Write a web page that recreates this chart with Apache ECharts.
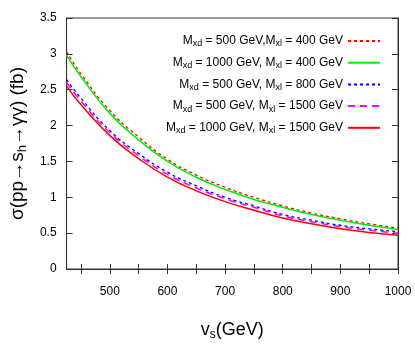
<!DOCTYPE html>
<html><head><meta charset="utf-8">
<script src="https://cdn.jsdelivr.net/npm/echarts@6/dist/echarts.min.js"></script>
<style>html,body{margin:0;padding:0;background:#fff}#c{width:415px;height:360px}</style>
</head><body><div id="c"></div>
<script>
var vs = [425, 450, 500, 550, 600, 650, 700, 750, 800, 850, 900, 950, 1000];
var s1 = [3.03, 2.72, 2.21, 1.84, 1.53, 1.31, 1.14, 1.00, 0.88, 0.78, 0.70, 0.63, 0.57];
var s2 = [2.98, 2.68, 2.17, 1.80, 1.50, 1.28, 1.11, 0.97, 0.86, 0.76, 0.68, 0.61, 0.55];
var s3 = [2.64, 2.38, 1.93, 1.61, 1.35, 1.16, 1.00, 0.88, 0.76, 0.68, 0.61, 0.56, 0.52];
var s4 = [2.60, 2.34, 1.90, 1.58, 1.32, 1.13, 0.98, 0.86, 0.74, 0.66, 0.59, 0.54, 0.50];
var s5 = [2.55, 2.29, 1.86, 1.54, 1.28, 1.09, 0.94, 0.82, 0.71, 0.63, 0.56, 0.51, 0.47];
var names = ['Mxd = 500 GeV,Mxl = 400 GeV', 'Mxd = 1000 GeV, Mxl = 400 GeV', 'Mxd = 500 GeV, Mxl = 800 GeV', 'Mxd = 500 GeV, Mxl = 1500 GeV', 'Mxd = 1000 GeV, Mxl = 1500 GeV'];
var xLabelValues = [500, 600, 700, 800, 900, 1000];
var xTickValues = [450, 500, 550, 600, 650, 700, 750, 800, 850, 900, 950, 1000];

function pairs(ys){ return vs.map(function(v,i){ return [v, ys[i]]; }); }
var font = '"Liberation Sans", Arial, sans-serif';
var chart = echarts.init(document.getElementById('c'), null, {renderer:'canvas'});
function mk(name, ys, color, type, width){
  return {name:name, type:'line', data:pairs(ys), showSymbol:false, symbol:'none', smooth:true,
    lineStyle:{color:color, type:type, width:width}, itemStyle:{color:color}, z: 3};
}
var axisLine = {show:true, lineStyle:{color:'#333', width:1}};
chart.setOption({
  animation:false,
  grid:{left:55, right:17, top:18, bottom:91, show:true, borderColor:'#333', borderWidth:1},
  legend:{orient:'vertical', right:29, top:30, align:'right', itemWidth:32, itemHeight:12, itemGap:8.2,
    itemStyle:{opacity:0},
    textStyle:{fontFamily:font, fontSize:12, color:'#000',
      rich:{sub:{fontSize:9, verticalAlign:'bottom', padding:[6,0,0,0], fontFamily:font, color:'#000'}}},
    formatter:function(n){ return n.replace(/M(xd|xl)/g, 'M{sub|$1}'); },
    data:names},
  xAxis:[{type:'value', min:425, max:1000, position:'bottom',
    axisLine:axisLine, splitLine:{show:false},
    axisTick:{show:true, inside:true, length:5, customValues:xTickValues, lineStyle:{color:'#333'}},
    axisLabel:{customValues:xLabelValues, fontFamily:font, fontSize:12, color:'#000', margin:17,
      formatter:function(v){ return String(v); }},
    name:'v{sub|s}(GeV)', nameLocation:'middle', nameGap:50,
    nameTextStyle:{fontFamily:font, fontSize:18, color:'#000',
      rich:{sub:{fontSize:12, fontFamily:font, color:'#000', verticalAlign:'bottom', padding:[10,0,0,0]}}}},
   {type:'value', min:425, max:1000, position:'top',
    axisLine:axisLine, splitLine:{show:false},
    axisTick:{show:true, inside:true, length:5, customValues:xTickValues, lineStyle:{color:'#333'}},
    axisLabel:{show:false}}],
  yAxis:[{type:'value', min:0, max:3.5, interval:0.5, position:'left',
    axisLine:axisLine, splitLine:{show:false},
    axisTick:{show:true, inside:true, length:6, lineStyle:{color:'#333'}},
    axisLabel:{fontFamily:font, fontSize:12, color:'#000', margin:10},
    name:'σ(pp→s{sub|h}→γγ) (fb)', nameLocation:'middle', nameGap:37,
    nameTextStyle:{fontFamily:font, fontSize:19, color:'#000',
      rich:{sub:{fontSize:13, fontFamily:font, color:'#000', verticalAlign:'bottom', padding:[10,0,0,0]}}}},
   {type:'value', min:0, max:3.5, interval:0.5, position:'right',
    axisLine:axisLine, splitLine:{show:false},
    axisTick:{show:true, inside:true, length:6, lineStyle:{color:'#333'}},
    axisLabel:{show:false}}],
  series:[
    mk(names[0], s1, '#ff0000', [3,3], 1.3),
    mk(names[1], s2, '#00ee00', 'solid', 1.5),
    mk(names[2], s3, '#0000ff', [3,3], 1.3),
    mk(names[3], s4, '#ff00ff', [7,5], 1.5),
    mk(names[4], s5, '#ff0000', 'solid', 1.5)
  ]
});
</script></body></html>
